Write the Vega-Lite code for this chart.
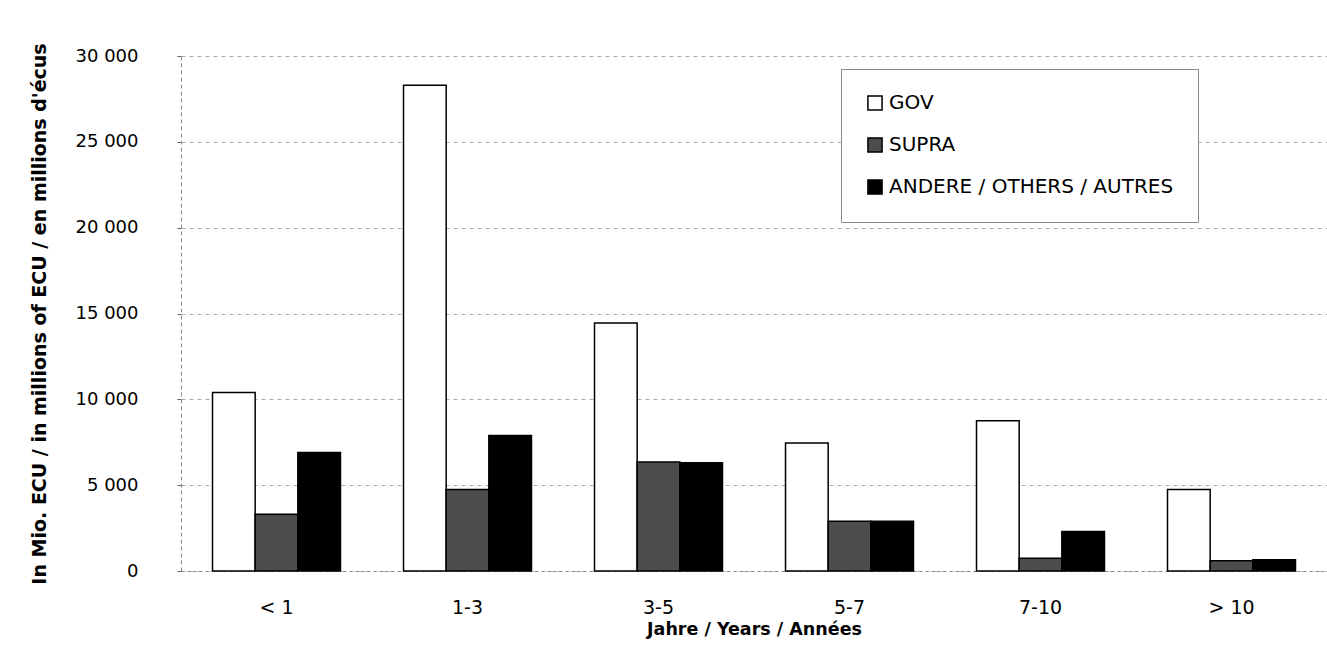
{
  "$schema": "https://vega.github.io/schema/vega-lite/v6.json",
  "autosize": "none",
  "width": 1146,
  "height": 515,
  "padding": {"left": 181, "top": 56, "right": 0, "bottom": 79},
  "background": "white",
  "config": {
    "font": "DejaVu Sans",
    "view": {"stroke": null}
  },
  "data": {
    "values": [
      {"cat": "< 1", "series": "GOV", "value": 10400},
      {"cat": "< 1", "series": "SUPRA", "value": 3300},
      {"cat": "< 1", "series": "ANDERE / OTHERS / AUTRES", "value": 6900},
      {"cat": "1-3", "series": "GOV", "value": 28300},
      {"cat": "1-3", "series": "SUPRA", "value": 4750},
      {"cat": "1-3", "series": "ANDERE / OTHERS / AUTRES", "value": 7900},
      {"cat": "3-5", "series": "GOV", "value": 14450},
      {"cat": "3-5", "series": "SUPRA", "value": 6350},
      {"cat": "3-5", "series": "ANDERE / OTHERS / AUTRES", "value": 6300},
      {"cat": "5-7", "series": "GOV", "value": 7450},
      {"cat": "5-7", "series": "SUPRA", "value": 2900},
      {"cat": "5-7", "series": "ANDERE / OTHERS / AUTRES", "value": 2900},
      {"cat": "7-10", "series": "GOV", "value": 8750},
      {"cat": "7-10", "series": "SUPRA", "value": 750},
      {"cat": "7-10", "series": "ANDERE / OTHERS / AUTRES", "value": 2300},
      {"cat": "> 10", "series": "GOV", "value": 4750},
      {"cat": "> 10", "series": "SUPRA", "value": 600},
      {"cat": "> 10", "series": "ANDERE / OTHERS / AUTRES", "value": 650}
    ]
  },
  "mark": {"type": "bar", "stroke": "black", "strokeWidth": 1.5},
  "encoding": {
    "x": {
      "field": "cat",
      "type": "nominal",
      "sort": ["< 1", "1-3", "3-5", "5-7", "7-10", "> 10"],
      "scale": {"paddingInner": 0.33, "paddingOuter": 0.165},
      "axis": {
        "title": "Jahre / Years / Années",
        "titleFontSize": 17.5,
        "titleFontWeight": "bold",
        "titlePadding": 3,
        "labelFontSize": 19,
        "labelFontWeight": "normal",
        "labelAngle": 0,
        "labelPadding": 27,
        "labelColor": "black",
        "titleColor": "black",
        "ticks": false,
        "domain": true,
        "domainColor": "#888",
        "domainDash": [3, 3],
        "domainWidth": 1
      }
    },
    "xOffset": {
      "field": "series",
      "sort": ["GOV", "SUPRA", "ANDERE / OTHERS / AUTRES"],
      "scale": {"paddingInner": 0}
    },
    "y": {
      "field": "value",
      "type": "quantitative",
      "scale": {"domain": [0, 30000], "nice": false},
      "axis": {
        "title": "In Mio. ECU / in millions of ECU / en millions d'écus",
        "titleFontSize": 19,
        "titleFontWeight": "bold",
        "titleColor": "black",
        "titlePadding": 26,
        "values": [0, 5000, 10000, 15000, 20000, 25000, 30000],
        "labelExpr": "replace(format(datum.value, ','), ',', ' ')",
        "labelFontSize": 18,
        "labelColor": "black",
        "labelPadding": 39,
        "ticks": true,
        "tickSize": 4,
        "tickColor": "#666",
        "domain": true,
        "domainColor": "#888",
        "domainDash": [4, 3],
        "grid": true,
        "gridColor": "#999",
        "gridDash": [4, 4],
        "gridWidth": 0.8
      }
    },
    "color": {
      "field": "series",
      "type": "nominal",
      "sort": ["GOV", "SUPRA", "ANDERE / OTHERS / AUTRES"],
      "scale": {
        "domain": ["GOV", "SUPRA", "ANDERE / OTHERS / AUTRES"],
        "range": ["white", "#4d4d4d", "black"]
      },
      "legend": {
        "title": null,
        "orient": "none",
        "legendX": 660,
        "legendY": 13,
        "strokeColor": "#888",
        "fillColor": "white",
        "padding": 24,
        "labelFontSize": 20,
        "labelColor": "black",
        "labelLimit": 400,
        "symbolType": "square",
        "symbolSize": 200,
        "symbolStrokeColor": "black",
        "symbolStrokeWidth": 1.5,
        "symbolOpacity": 1,
        "rowPadding": 20,
        "labelOffset": 4,
        "offset": 0
      }
    }
  }
}
